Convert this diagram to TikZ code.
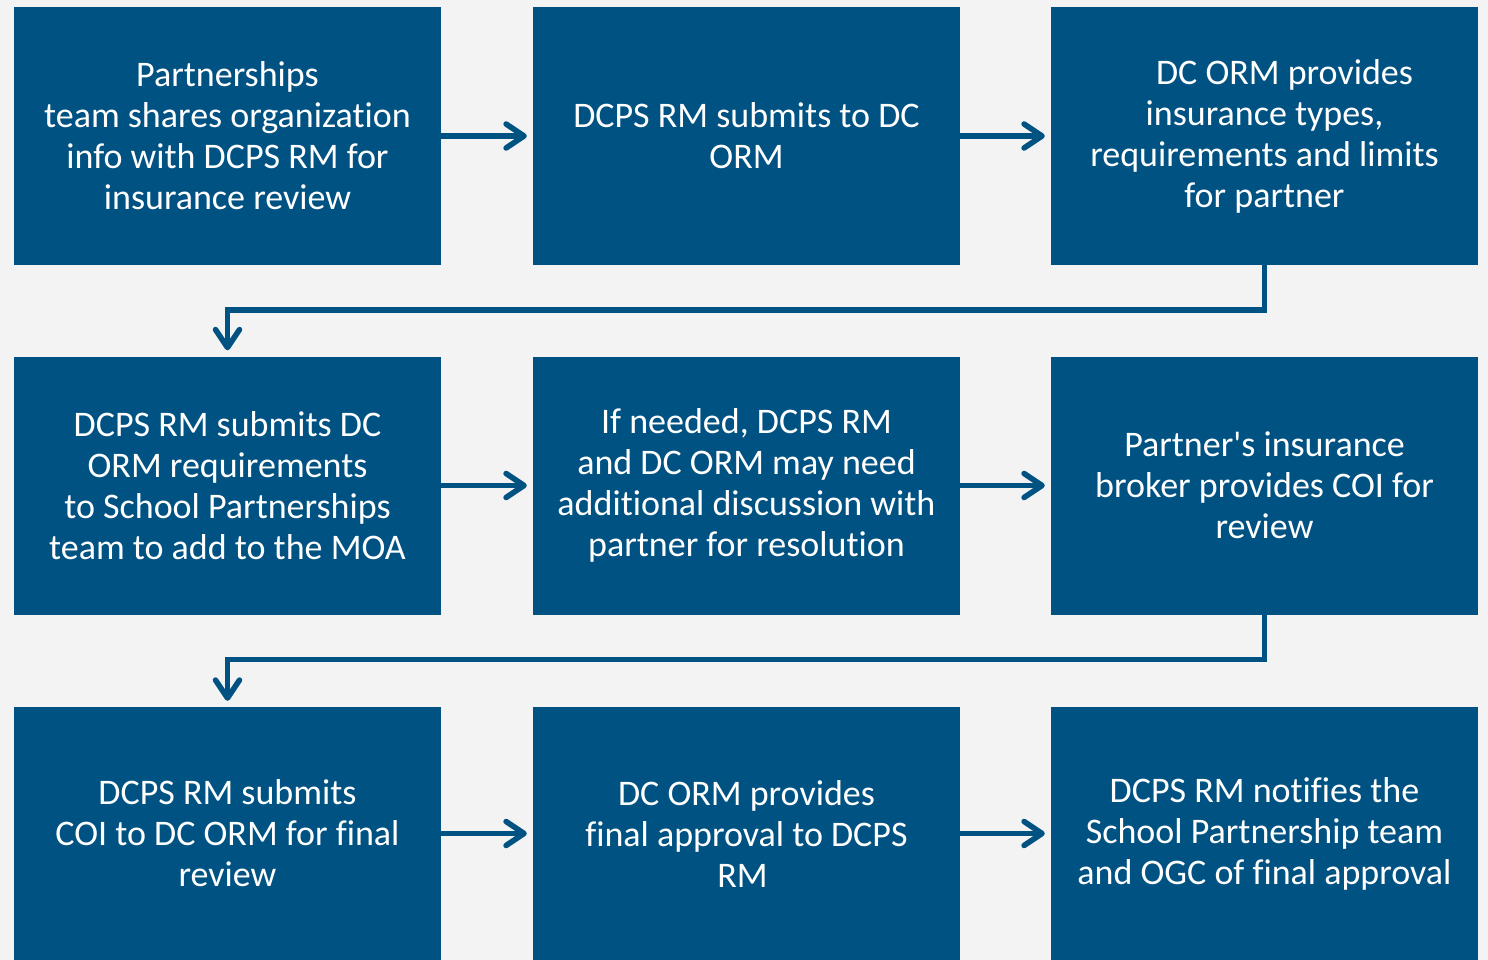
\documentclass[tikz,border=0pt]{standalone}
\usepackage{fontspec}
\setmainfont[Ligatures={NoCommon}]{Carlito}
\usetikzlibrary{arrows.meta}
\definecolor{boxblue}{RGB}{0,82,130}
\definecolor{pagegray}{RGB}{243,243,243}
\begin{document}
\begin{tikzpicture}[x=1pt,y=-1pt,
  stepbox/.style={fill=boxblue, draw=none, minimum width=427pt, minimum height=258pt,
    text=white, align=center, inner sep=0pt,
    font=\fontsize{36}{41}\selectfont},
  lastrow/.style={stepbox, minimum height=253pt},
  flow/.style={draw=boxblue, line width=5.5pt,
    -{Straight Barb[length=18pt, width=24pt, round]}, shorten >=6pt}
]
% page background fixes the frame
\fill[pagegray] (0,0) rectangle (1488,960);
\useasboundingbox (0,0) rectangle (1488,960);

% row 1
\node[stepbox] (b1) at (227.5,136) {Partnerships\\team shares organization\\info with DCPS RM for\\insurance review};
\node[stepbox] (b2) at (746.5,136) {DCPS RM submits to DC\\ORM};
\node[stepbox] (b3) at (1264.5,136) {\hspace*{40pt}DC ORM provides\\insurance types,\\requirements and limits\\for partner};
% row 2
\node[stepbox] (b4) at (227.5,485.5) {DCPS RM submits DC\\ORM requirements\\to School Partnerships\\team to add to the MOA};
\node[stepbox] (b5) at (746.5,485.5) {If needed, DCPS RM\\and DC ORM may need\\additional discussion with\\partner for resolution};
\node[stepbox] (b6) at (1264.5,485.5) {Partner\textquotesingle s insurance\\broker provides COI for\\review};
% row 3
\node[lastrow] (b7) at (227.5,833.5) {DCPS RM submits\\COI to DC ORM for final\\review};
\node[lastrow] (b8) at (746.5,833.5) {DC ORM provides\\final approval to DCPS\\RM\hspace*{8pt}};
\node[lastrow] (b9) at (1264.5,833.5) {DCPS RM notifies the\\School Partnership team\\and OGC of final approval};

% connectors within rows
\draw[flow] (b1.east) -- (b2.west);
\draw[flow] (b2.east) -- (b3.west);
\draw[flow] (b4.east) -- (b5.west);
\draw[flow] (b5.east) -- (b6.west);
\draw[flow] (b7.east) -- (b8.west);
\draw[flow] (b8.east) -- (b9.west);

% connectors between rows
\coordinate (t1) at (1264.5,310);
\coordinate (t2) at (1264.5,659.5);
\draw[flow, line join=miter] (b3.south) -- (t1) -| (b4.north);
\draw[flow, line join=miter] (b6.south) -- (t2) -| (b7.north);
\end{tikzpicture}
\end{document}
